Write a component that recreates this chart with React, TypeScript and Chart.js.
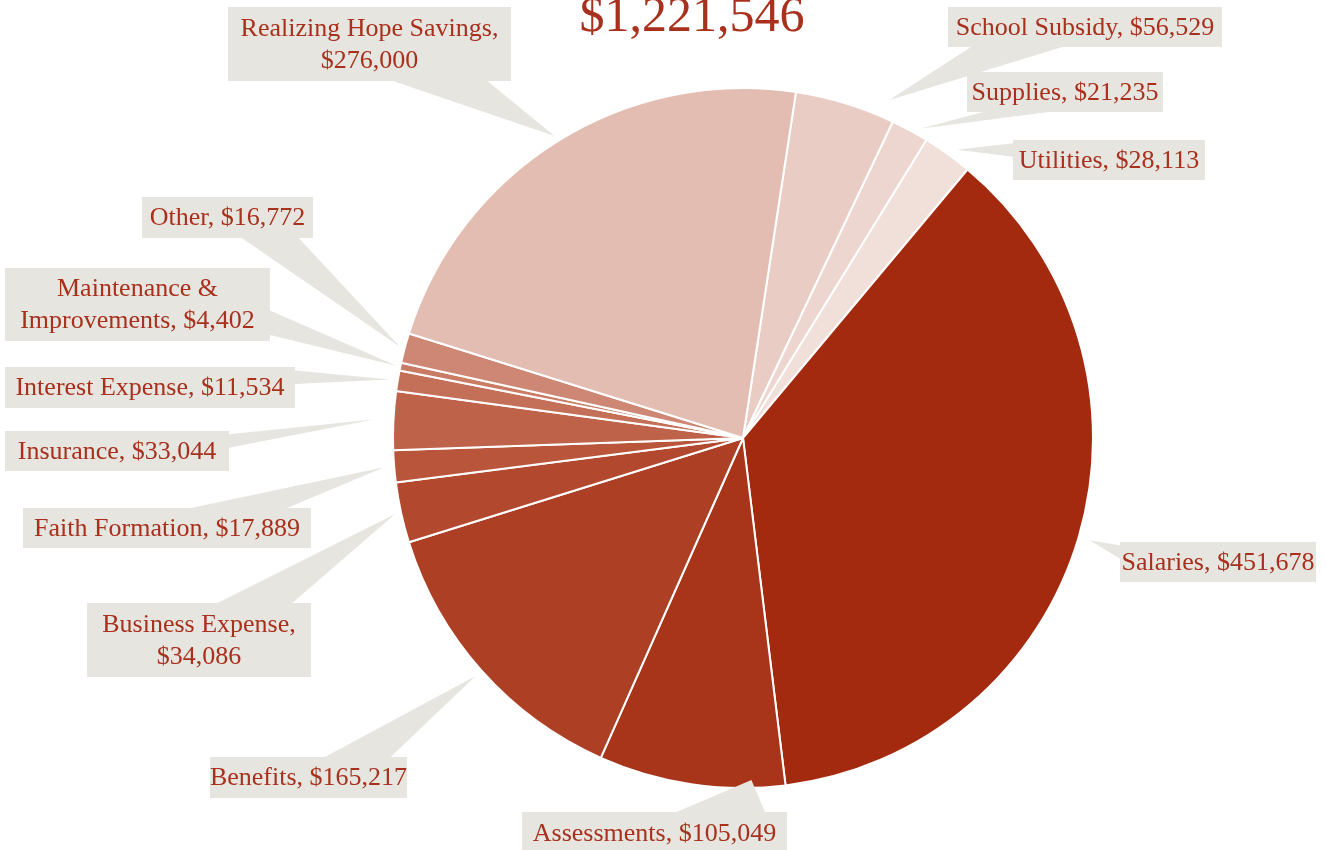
import { useEffect, useRef } from "react";
import { Chart, registerables } from "chart.js";

Chart.register(...registerables);

// ---- data ----
const categories = [
  "School Subsidy",
  "Supplies",
  "Utilities",
  "Salaries",
  "Assessments",
  "Benefits",
  "Business Expense",
  "Faith Formation",
  "Insurance",
  "Interest Expense",
  "Maintenance & Improvements",
  "Other",
  "Realizing Hope Savings",
];
const values = [56529, 21235, 28113, 451678, 105049, 165217, 34086, 17889, 33044, 11534, 4402, 16772, 276000];
const totalLabel = "$1,221,546";

// ---- styles ----
const sliceColors = [
  "#E9CCC3",
  "#EDD6CF",
  "#F1DFD9",
  "#A32A0E",
  "#A8341A",
  "#AD3F24",
  "#B2492F",
  "#B8553B",
  "#BE6249",
  "#C46F57",
  "#C97B64",
  "#CE8774",
  "#E3BDB2",
];

// ---- label layout (box rects, line split = words on first line, tip placement within slice) ----
const labelBoxes = [
  { x: 948, y: 7, w: 274, h: 40, split: 0, frac: 0.88, off: 18 },
  { x: 967, y: 72, w: 196, h: 40, split: 0, frac: 0.73, off: 7 },
  { x: 1013, y: 140, w: 192, h: 40, split: 0, frac: 0.6, off: 9 },
  { x: 1120, y: 542, w: 196, h: 40, split: 0, frac: 0.5, off: 12 },
  { x: 522, y: 812, w: 265, h: 42, split: 0, frac: 0.18, off: -8 },
  { x: 210, y: 757, w: 197, h: 41, split: 0, frac: 0.5, off: 8 },
  { x: 87, y: 603, w: 224, h: 74, split: 2, frac: 0.5, off: 6 },
  { x: 23, y: 508, w: 288, h: 40, split: 0, frac: 0.5, off: 10 },
  { x: 5, y: 431, w: 224, h: 40, split: 0, frac: 0.5, off: 20 },
  { x: 5, y: 367, w: 290, h: 41, split: 0, frac: 0.5, off: 8 },
  { x: 5, y: 268, w: 265, h: 73, split: 2, frac: 0.5, off: 4 },
  { x: 142, y: 197, w: 171, h: 41, split: 0, frac: 0.5, off: 5 },
  { x: 228, y: 7, w: 283, h: 74, split: 3, frac: 0.5, off: 6 },
];

const BOX_COLOR = "#E7E5E0";
const TEXT_COLOR = "#A8301C";
const FONT = '"Liberation Serif", "DejaVu Serif", serif';

const fmt = (v: number) => "$" + v.toLocaleString("en-US");

function labelLines(i: number): string[] {
  const full = `${categories[i]}, ${fmt(values[i])}`;
  const split = labelBoxes[i].split;
  if (!split) return [full];
  const words = full.split(" ");
  return [words.slice(0, split).join(" "), words.slice(split).join(" ")];
}

const calloutPlugin = {
  id: "callouts",
  afterDraw(chart: any) {
    const ctx = chart.ctx;
    const meta = chart.getDatasetMeta(0);
    ctx.save();
    // title
    ctx.fillStyle = TEXT_COLOR;
    ctx.font = `50px ${FONT}`;
    ctx.textAlign = "center";
    ctx.textBaseline = "alphabetic";
    ctx.fillText(totalLabel, 692, 31);

    labelBoxes.forEach((b, i) => {
      const arc = meta.data[i];
      if (!arc) return;
      const p = arc.getProps(["x", "y", "startAngle", "endAngle", "outerRadius"], true);
      const a = p.startAngle + b.frac * (p.endAngle - p.startAngle);
      const r = p.outerRadius + b.off;
      const tx = p.x + r * Math.cos(a);
      const ty = p.y + r * Math.sin(a);
      const cx = b.x + b.w / 2;
      const cy = b.y + b.h / 2;
      const dx = (tx - cx) / b.w;
      const dy = (ty - cy) / b.h;
      ctx.fillStyle = BOX_COLOR;
      ctx.fillRect(b.x, b.y, b.w, b.h);
      let p1: [number, number];
      let p2: [number, number];
      if (Math.abs(dx) > Math.abs(dy)) {
        const sx = dx > 0 ? b.x + b.w : b.x;
        if (ty < cy) {
          p1 = [sx, b.y + b.h / 12];
          p2 = [sx, b.y + (5 * b.h) / 12];
        } else {
          p1 = [sx, b.y + (7 * b.h) / 12];
          p2 = [sx, b.y + (11 * b.h) / 12];
        }
      } else {
        const sy = dy > 0 ? b.y + b.h : b.y;
        if (tx < cx) {
          p1 = [b.x + b.w / 12, sy];
          p2 = [b.x + (5 * b.w) / 12, sy];
        } else {
          p1 = [b.x + (7 * b.w) / 12, sy];
          p2 = [b.x + (11 * b.w) / 12, sy];
        }
      }
      ctx.beginPath();
      ctx.moveTo(p1[0], p1[1]);
      ctx.lineTo(tx, ty);
      ctx.lineTo(p2[0], p2[1]);
      ctx.closePath();
      ctx.fill();

      const lines = labelLines(i);
      ctx.fillStyle = TEXT_COLOR;
      ctx.font = `26px ${FONT}`;
      ctx.textAlign = "center";
      ctx.textBaseline = "middle";
      const lh = 32;
      const startY = cy - ((lines.length - 1) * lh) / 2;
      lines.forEach((ln, k) => ctx.fillText(ln, cx, startY + k * lh + 1));
    });
    ctx.restore();
  },
};

export default function App() {
  const ref = useRef<HTMLCanvasElement | null>(null);
  useEffect(() => {
    if (!ref.current) return;
    const chart = new Chart(ref.current, {
      type: "pie",
      data: {
        labels: categories,
        datasets: [
          {
            data: values,
            backgroundColor: sliceColors,
            borderColor: "#FFFFFF",
            borderWidth: 2,
          },
        ],
      },
      options: {
        animation: false,
        responsive: false,
        rotation: 8.7,
        layout: { padding: { left: 392, right: 233, top: 87, bottom: 61 } },
        plugins: {
          legend: { display: false },
          tooltip: { enabled: false },
          title: { display: false },
        },
      },
      plugins: [calloutPlugin],
    });
    return () => chart.destroy();
  }, []);
  return (
    <div style={{ position: "fixed", left: 0, top: 0, width: 1327, height: 850, background: "#FFFFFF" }}>
      <canvas ref={ref} width={1327} height={850} style={{ display: "block" }} />
    </div>
  );
}
